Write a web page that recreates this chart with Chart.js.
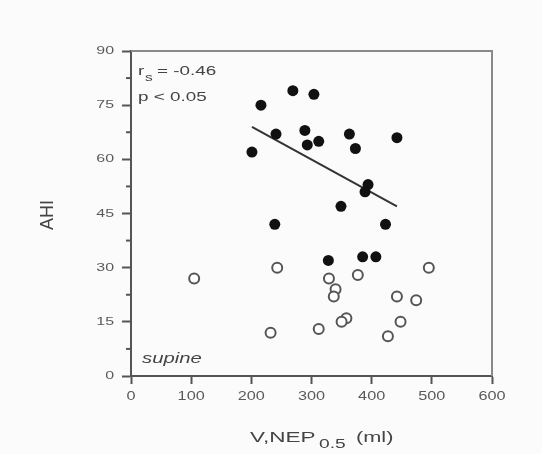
<!DOCTYPE html>
<html lang="en">

<head>
    <meta charset="UTF-8">
    <meta name="viewport" content="width=device-width, initial-scale=1.0">
    <title>AHI vs V,NEP0.5 (supine)</title>
    <script src="https://cdn.jsdelivr.net/npm/chart.js"></script>
    <style>
        html,
        body {
            margin: 0;
            padding: 0;
            background: #fbfbfb;
        }

        .chart-container {
            width: 542px;
            height: 454px;
        }
    </style>
</head>

<body>
    <div class="chart-container">
        <canvas id="ahiChart"></canvas>
    </div>

    <script>
        // patients with high AHI (filled) - V,NEP0.5 in ml
        const filledVol = [201, 216, 241, 269, 289, 293, 304, 312, 363, 373, 442, 394, 389, 349, 239, 423, 328, 385, 407];
        const filledAhi = [62, 75, 67, 79, 68, 64, 78, 65, 67, 63, 66, 53, 51, 47, 42, 42, 32, 33, 33];

        // patients with low AHI (open)
        const openVol = [105, 243, 232, 329, 340, 337, 377, 495, 442, 474, 358, 350, 312, 448, 427];
        const openAhi = [27, 30, 12, 27, 24, 22, 28, 30, 22, 21, 16, 15, 13, 15, 11];

        // regression line ends
        const fitVol = [201, 442];
        const fitAhi = [69, 47];

        const xTicks = [0, 100, 200, 300, 400, 500, 600];
        const yTicks = [0, 15, 30, 45, 60, 75, 90];

        const toPoints = (xs, ys) => xs.map((x, i) => ({ x: x, y: ys[i] }));

        const FONT = 'Arial, "Liberation Sans", sans-serif';

        // the lettering in this figure is drawn wide, so text gets a horizontal stretch
        function wideText(ctx, text, x, y, font, stretch, align) {
            ctx.save();
            ctx.font = font;
            ctx.translate(x, y);
            ctx.scale(stretch, 1);
            ctx.textAlign = align || 'left';
            ctx.fillText(text, 0, 0);
            ctx.restore();
        }

        // frame on top/right, minor y ticks, tick labels and the text labels
        const decorations = {
            id: 'decorations',
            afterDraw(chart) {
                const ctx = chart.ctx;
                const area = chart.chartArea;
                const xScale = chart.scales.x;
                const yScale = chart.scales.y;
                ctx.save();

                ctx.strokeStyle = '#8a8a8a';
                ctx.lineWidth = 2;
                ctx.beginPath();
                ctx.moveTo(area.left, area.top);
                ctx.lineTo(area.right, area.top);
                ctx.lineTo(area.right, area.bottom);
                ctx.stroke();

                ctx.strokeStyle = '#555';
                ctx.lineWidth = 2;
                for (let i = 0; i < yTicks.length - 1; i++) {
                    const mid = (yTicks[i] + yTicks[i + 1]) / 2;
                    const py = yScale.getPixelForValue(mid);
                    ctx.beginPath();
                    ctx.moveTo(area.left - 5, py);
                    ctx.lineTo(area.left, py);
                    ctx.stroke();
                }

                // tick labels
                ctx.fillStyle = '#5a5a5a';
                ctx.textBaseline = 'middle';
                yTicks.forEach(v => {
                    wideText(ctx, String(v), area.left - 17, yScale.getPixelForValue(v), '11px ' + FONT, 1.45, 'right');
                });
                xTicks.forEach(v => {
                    wideText(ctx, String(v), xScale.getPixelForValue(v), 396, '13px ' + FONT, 1.25, 'center');
                });

                ctx.fillStyle = '#444';
                ctx.textBaseline = 'alphabetic';
                wideText(ctx, 'r', 138, 75, '13px ' + FONT, 1.45);
                wideText(ctx, 's', 145, 81, '11px ' + FONT, 1.4);
                wideText(ctx, '= -0.46', 157, 75, '13px ' + FONT, 1.45);
                wideText(ctx, 'p < 0.05', 138, 101, '13px ' + FONT, 1.45);

                wideText(ctx, 'supine', 142, 363, 'italic 14px ' + FONT, 1.45);

                // x axis title with subscript
                wideText(ctx, 'V,NEP', 250, 442, '15px ' + FONT, 1.5);
                wideText(ctx, '0.5', 319, 448, '12px ' + FONT, 1.6);
                wideText(ctx, '(ml)', 356, 442, '15px ' + FONT, 1.45);

                // y axis title
                ctx.translate(53, 215);
                ctx.rotate(-Math.PI / 2);
                ctx.textAlign = 'center';
                ctx.font = '18px ' + FONT;
                ctx.fillText('AHI', 0, 0);

                ctx.restore();
            }
        };

        const ctx = document.getElementById('ahiChart').getContext('2d');
        new Chart(ctx, {
            type: 'scatter',
            data: {
                datasets: [{
                    label: 'high',
                    data: toPoints(filledVol, filledAhi),
                    backgroundColor: '#111',
                    borderColor: '#111',
                    pointRadius: 5.5,
                    borderWidth: 0
                }, {
                    label: 'low',
                    data: toPoints(openVol, openAhi),
                    backgroundColor: '#fff',
                    borderColor: '#555',
                    pointRadius: 5,
                    borderWidth: 2
                }, {
                    type: 'line',
                    label: 'fit',
                    data: toPoints(fitVol, fitAhi),
                    borderColor: '#333',
                    borderWidth: 2,
                    pointRadius: 0
                }]
            },
            options: {
                responsive: true,
                maintainAspectRatio: false,
                animation: false,
                layout: {
                    padding: { left: 0, right: 50, top: 51, bottom: 0 }
                },
                plugins: {
                    legend: { display: false },
                    tooltip: { enabled: false }
                },
                scales: {
                    x: {
                        type: 'linear',
                        min: 0,
                        max: 600,
                        afterBuildTicks(scale) {
                            scale.ticks = xTicks.map(v => ({ value: v }));
                        },
                        afterFit(scale) {
                            scale.height = 78;
                        },
                        ticks: { display: false },
                        grid: {
                            drawOnChartArea: false,
                            drawTicks: true,
                            tickLength: 8,
                            tickColor: '#555',
                            tickWidth: 2
                        },
                        border: { color: '#555', width: 2 }
                    },
                    y: {
                        min: 0,
                        max: 90,
                        afterBuildTicks(scale) {
                            scale.ticks = yTicks.map(v => ({ value: v }));
                        },
                        afterFit(scale) {
                            scale.width = 131;
                        },
                        ticks: { display: false },
                        grid: {
                            drawOnChartArea: false,
                            drawTicks: true,
                            tickLength: 9,
                            tickColor: '#555',
                            tickWidth: 2
                        },
                        border: { color: '#555', width: 2 }
                    }
                }
            },
            plugins: [decorations]
        });
    </script>
</body>

</html>
